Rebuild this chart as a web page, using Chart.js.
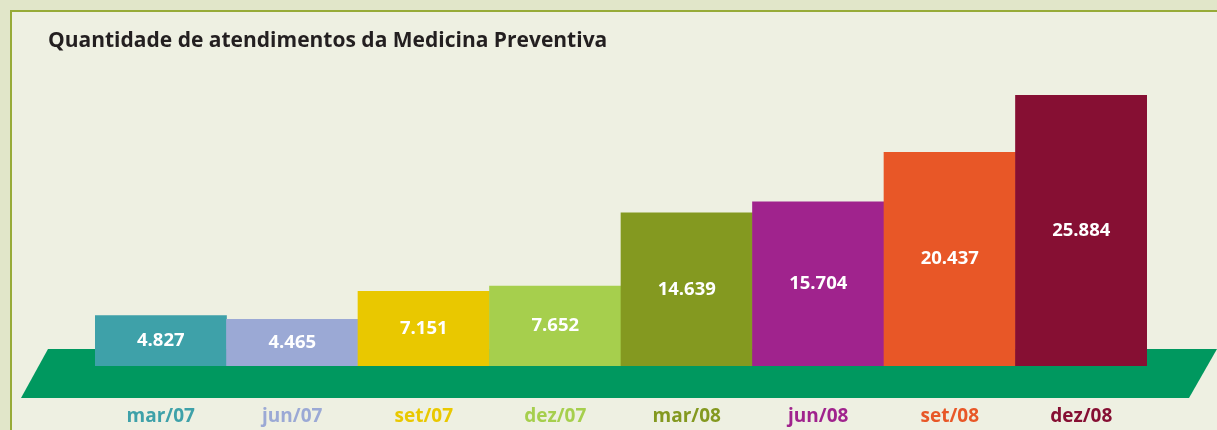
<!DOCTYPE html>
<html>
<head>
<meta charset="utf-8">
<script src="https://cdn.jsdelivr.net/npm/chart.js@4"></script>
<style>
  html, body { margin: 0; padding: 0; }
  body { width: 1217px; height: 430px; background: #e1e6c9; position: relative; overflow: hidden; }
  #panel {
    position: absolute; left: 10px; top: 10px; right: 0; bottom: 0;
    background: #eef0e2;
    border-left: 2px solid #97ab38;
    border-top: 2px solid #97ab38;
  }
  #wrap { position: absolute; left: 0; top: 0; width: 1217px; height: 430px; }
</style>
</head>
<body>
<div id="panel"></div>
<div id="wrap"><canvas id="atendChart" width="1217" height="430"></canvas></div>
<script>
// dados
const categories = ['mar/07', 'jun/07', 'set/07', 'dez/07', 'mar/08', 'jun/08', 'set/08', 'dez/08'];
const atendimentos = [4827, 4465, 7151, 7652, 14639, 15704, 20437, 25884];
const barColors = ['#3ea1a9', '#9ba9d5', '#e9c800', '#a6cf4d', '#849920', '#a0238d', '#e85727', '#860f33'];

const fontFamily = '"Open Sans", "DejaVu Sans", sans-serif';

// formato brasileiro: 4827 -> 4.827
const fmt = v => String(v).replace(/\B(?=(\d{3})+(?!\d))/g, '.');

// faixa verde (piso) atras das barras
const floorPlugin = {
  id: 'floor',
  beforeDatasetsDraw(chart) {
    const { ctx, chartArea: a } = chart;
    ctx.save();
    ctx.fillStyle = '#00985f';
    ctx.beginPath();
    ctx.moveTo(a.left - 47, a.bottom - 17);
    ctx.lineTo(a.right + 70, a.bottom - 17);
    ctx.lineTo(a.right + 42, a.bottom + 32);
    ctx.lineTo(a.left - 74, a.bottom + 32);
    ctx.closePath();
    ctx.fill();
    ctx.restore();
  }
};

// valores no meio de cada barra
const valueLabels = {
  id: 'valueLabels',
  afterDatasetsDraw(chart) {
    const { ctx } = chart;
    const meta = chart.getDatasetMeta(0);
    ctx.save();
    ctx.fillStyle = '#ffffff';
    ctx.font = 'bold 18.5px ' + fontFamily;
    ctx.textAlign = 'center';
    ctx.textBaseline = 'middle';
    meta.data.forEach((bar, i) => {
      ctx.fillText(fmt(atendimentos[i]), bar.x, (bar.y + bar.base) / 2);
    });
    ctx.restore();
  }
};

const ctx = document.getElementById('atendChart').getContext('2d');

const chart = new Chart(ctx, {
  type: 'bar',
  data: {
    labels: categories,
    datasets: [{
      data: atendimentos,
      backgroundColor: barColors,
      borderWidth: 0,
      categoryPercentage: 1,
      barPercentage: 1
    }]
  },
  options: {
    responsive: false,
    animation: false,
    events: [],
    layout: { padding: { left: 48, right: 70, top: 0, bottom: 0 } },
    plugins: {
      legend: { display: false },
      tooltip: { enabled: false },
      title: {
        display: true,
        text: 'Quantidade de atendimentos da Medicina Preventiva',
        align: 'start',
        color: '#231f20',
        font: { family: fontFamily, size: 21, weight: 'bold' },
        padding: { top: 28, bottom: 20 }
      }
    },
    scales: {
      x: {
        grid: { display: false, drawTicks: false },
        border: { display: false },
        ticks: {
          color: c => barColors[c.index],
          font: { family: fontFamily, size: 19, weight: 'bold' },
          padding: 39
        },
        afterFit: s => { s.height = 64; }
      },
      y: {
        min: 0,
        max: 28000,
        grid: { display: false, drawTicks: false },
        border: { display: false },
        ticks: { display: false },
        afterFit: s => { s.width = 47; }
      }
    }
  },
  plugins: [floorPlugin, valueLabels]
});
</script>
</body>
</html>
